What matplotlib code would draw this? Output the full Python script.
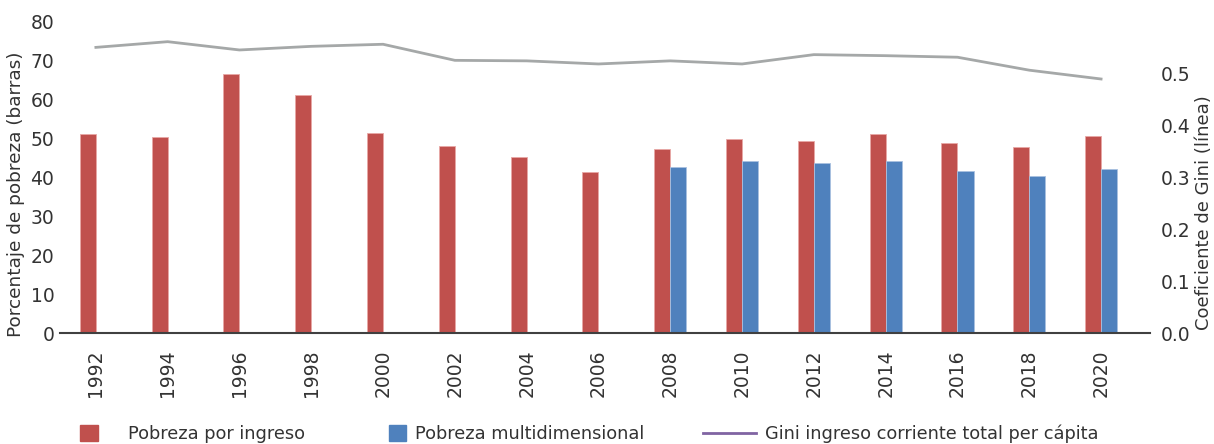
import matplotlib.pyplot as plt
import numpy as np
from matplotlib.patches import Patch
from matplotlib.lines import Line2D

plt.rcParams["font.family"] = "DejaVu Sans"

years = ["1992", "1994", "1996", "1998", "2000", "2002", "2004", "2006",
         "2008", "2010", "2012", "2014", "2016", "2018", "2020"]
pobreza_ingreso = [51.2, 50.5, 66.5, 61.2, 51.4, 48.2, 45.3, 41.3,
                   47.2, 49.8, 49.5, 51.1, 48.8, 47.8, 50.8]
pobreza_multi = [np.nan] * 8 + [42.6, 44.2, 43.6, 44.2, 41.7, 40.4, 42.3]
gini = [0.551, 0.562, 0.546, 0.553, 0.557, 0.526, 0.525, 0.519,
        0.525, 0.519, 0.537, 0.535, 0.532, 0.507, 0.490]

red = "#c0504d"
blue = "#4f81bd"
gray = "#a5a8a8"
purple = "#8064a2"
txt = "#333333"

fig = plt.figure(figsize=(12.14, 4.44), dpi=100)
ax = fig.add_axes([0.0494, 0.25, 0.8978, 0.7005])
ax2 = ax.twinx()

x = np.arange(len(years))
w = 0.225
ax.bar(x - w / 2, pobreza_ingreso, w, color=red, edgecolor="#e8a8a6", linewidth=0.6)
ax.bar(x + w / 2, pobreza_multi, w, color=blue, edgecolor="#a9c1e0", linewidth=0.6)
ax2.plot(x, gini, color=gray, linewidth=2.0, solid_joinstyle="round")

ax.set_xlim(-0.5, 14.68)
ax.set_ylim(0, 80)
ax2.set_ylim(0, 0.6)
ax.set_yticks(range(0, 81, 10))
ax2.set_yticks([0.0, 0.1, 0.2, 0.3, 0.4, 0.5])
ax2.set_yticklabels(["0.0", "0.1", "0.2", "0.3", "0.4", "0.5"])
ax.set_xticks(x)
ax.set_xticklabels(years, rotation=90)

for a in (ax, ax2):
    for s in ("top", "left", "right", "bottom"):
        a.spines[s].set_visible(False)
ax.spines["bottom"].set_visible(True)
ax.spines["bottom"].set_color("#404040")
ax.spines["bottom"].set_linewidth(1.5)

ax.tick_params(axis="y", length=0, labelsize=13.5, colors=txt, pad=4)
ax.tick_params(axis="x", length=0, labelsize=13.5, colors=txt, pad=12)
ax2.tick_params(axis="y", length=0, labelsize=13.5, colors=txt, pad=8)

ax.set_ylabel("Porcentaje de pobreza (barras)", fontsize=13.3, color=txt)
ax2.set_ylabel("Coeficiente de Gini (línea)", fontsize=13, color=txt)
ax.yaxis.set_label_coords(-0.032, 0.447)
ax2.yaxis.set_label_coords(1.041, 0.386)

leg_y = 0.022
fig.legend(handles=[Patch(color=red)], labels=["Pobreza por ingreso"],
           loc="center left", bbox_to_anchor=(0.053, leg_y), frameon=False,
           fontsize=12.8, handlelength=1.0, handleheight=1.0, handletextpad=1.7,
           labelcolor=txt)
fig.legend(handles=[Patch(color=blue)], labels=["Pobreza multidimensional"],
           loc="center left", bbox_to_anchor=(0.307, leg_y), frameon=False,
           fontsize=12.8, handlelength=1.0, handleheight=1.0, handletextpad=0.5,
           labelcolor=txt)
fig.legend(handles=[Line2D([0], [0], color=purple, linewidth=2)],
           labels=["Gini ingreso corriente total per cápita"],
           loc="center left", bbox_to_anchor=(0.566, leg_y), frameon=False,
           fontsize=12.8, handlelength=3.0, handletextpad=0.5,
           labelcolor=txt)

fig.savefig("out.png", dpi=100)
